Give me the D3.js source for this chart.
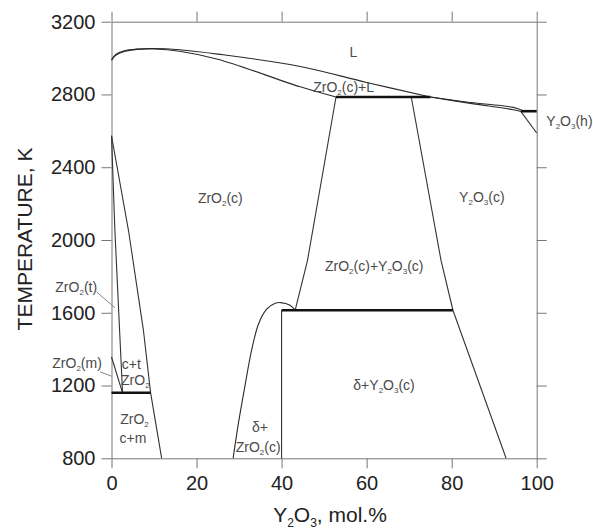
<!DOCTYPE html>
<html>
<head>
<meta charset="utf-8">
<script src="https://cdn.jsdelivr.net/npm/d3@7"></script>
<style>
  body { margin: 0; background: #fff; }
  svg { font-family: "Liberation Sans", Arial, sans-serif; }
</style>
</head>
<body>
<svg width="593" height="529"></svg>
<script>
// Phase diagram ZrO2 - Y2O3, x = mol.% Y2O3, y = temperature in K

const xTicks = [0, 20, 40, 60, 80, 100];
const yTicks = [800, 1200, 1600, 2000, 2400, 2800, 3200];

// liquidus, ZrO2(c) side
const liquidusZr = [[0, 2990], [1, 3020], [3, 3040], [6, 3050], [10, 3053], [16, 3046], [25, 3022], [44.4, 2954], [60, 2866], [75, 2786]];
// solidus, ZrO2(c) side
const solidusZr = [[0, 2988], [1, 3015], [3, 3036], [6, 3048], [10, 3050], [16, 3038], [25, 2994], [44.4, 2842], [52.8, 2786]];
// liquidus / solidus, Y2O3(c) side
const liquidusY = [[75, 2786], [84.4, 2756], [94.5, 2729], [96.8, 2710]];
const solidusY = [[75, 2786], [84.4, 2751], [94.5, 2716], [96.3, 2706]];
// Y2O3 c -> h
const cubicHex = [[96.3, 2706], [100, 2588]];

// ZrO2 side boundaries
const cToCT = [[0, 2573], [4.0, 2052], [7.5, 1505], [9.2, 1160], [11.8, 800]];
const tToCT = [[0, 2573], [0.8, 2052], [1.9, 1505], [2.6, 1160]];
const mToMT = [[0, 1357], [2.6, 1160]];

// delta phase
const deltaDome = [[28.6, 800], [29.9, 1000], [31.4, 1200], [33.0, 1400], [34.6, 1540], [36.5, 1620], [38.5, 1652], [39.8, 1656], [42, 1641], [43.2, 1614]];
const deltaLine = [[40, 800], [40, 1614]];

// two-phase ZrO2(c)+Y2O3(c) boundaries
const leftSolvus = [[43.2, 1614], [46.1, 1888], [52.8, 2786]];
const rightSolvus = [[70.5, 2786], [77.5, 1888], [80.3, 1614], [92.8, 800]];

// invariant lines (thick)
const invariants = [
    [[0, 1160], [9.2, 1160]],
    [[40, 1614], [80.3, 1614]],
    [[52.8, 2786], [75, 2786]],
    [[96.3, 2708], [100, 2708]]
];

// phase labels: [x, T, parts]; parts are [text, isSub]
const labels = [
    [56.9, 3034, [["L", 0]]],
    [54.6, 2842, [["ZrO", 0], ["2", 1], ["(c)+L", 0]]],
    [107.7, 2656, [["Y", 0], ["2", 1], ["O", 0], ["3", 1], ["(h)", 0]]],
    [25.6, 2233, [["ZrO", 0], ["2", 1], ["(c)", 0]]],
    [87.1, 2235, [["Y", 0], ["2", 1], ["O", 0], ["3", 1], ["(c)", 0]]],
    [61.8, 1855, [["ZrO", 0], ["2", 1], ["(c)+Y", 0], ["2", 1], ["O", 0], ["3", 1], ["(c)", 0]]],
    [64.1, 1202, [["\u03b4+Y", 0], ["2", 1], ["O", 0], ["3", 1], ["(c)", 0]]],
    [34.9, 973, [["\u03b4+", 0]]],
    [34.5, 860, [["ZrO", 0], ["2", 1], ["(c)", 0]]],
    [-8.3, 1741, [["ZrO", 0], ["2", 1], ["(t)", 0]]],
    [-8.1, 1324, [["ZrO", 0], ["2", 1], ["(m)", 0]]],
    [4.66, 1321, [["c+t", 0]]],
    [5.6, 1233, [["ZrO", 0], ["2", 1]]],
    [5.4, 1014, [["ZrO", 0], ["2", 1]]],
    [5.06, 910, [["c+m", 0]]]
];

const leaders = [
    [[-3.5, 1714], [0.8, 1628]],
    [[-2.7, 1275], [0.05, 1251]]
];

const svg = d3.select("svg");

const x = d3.scaleLinear().domain([0, 100]).range([111.5, 536.7]);
const y = d3.scaleLinear().domain([800, 3200]).range([458.3, 21.7]);

function styleAxis(g) {
    g.select(".domain").attr("stroke", "#777");
    g.selectAll(".tick line").attr("stroke", "#777");
    g.selectAll(".tick text").attr("fill", "#222").style("font-size", "20px");
}

svg.append("g")
    .attr("transform", `translate(0,${y(800)})`)
    .call(d3.axisBottom(x).tickValues(xTicks).tickSize(10).tickSizeOuter(0).tickPadding(8).tickFormat(d3.format("d")))
    .call(styleAxis);

svg.append("g")
    .attr("transform", `translate(0,${y(3200)})`)
    .call(d3.axisTop(x).tickValues(xTicks).tickSize(10).tickSizeOuter(0).tickFormat(""))
    .call(styleAxis);

svg.append("g")
    .attr("transform", `translate(${x(0)},0)`)
    .call(d3.axisLeft(y).tickValues(yTicks).tickSize(10).tickSizeOuter(0).tickPadding(6).tickFormat(d3.format("d")))
    .call(styleAxis);

svg.append("g")
    .attr("transform", `translate(${x(100)},0)`)
    .call(d3.axisRight(y).tickValues(yTicks).tickSize(10).tickSizeOuter(0).tickFormat(""))
    .call(styleAxis);

const smooth = d3.line().x(d => x(d[0])).y(d => y(d[1])).curve(d3.curveCatmullRom.alpha(0.5));
const straight = d3.line().x(d => x(d[0])).y(d => y(d[1]));

const plot = svg.append("g").attr("fill", "none");

[liquidusZr, solidusZr, liquidusY, solidusY, deltaDome].forEach(c => {
    plot.append("path").attr("d", smooth(c)).attr("stroke", "#2a2a2a").attr("stroke-width", 1.1);
});

[cubicHex, cToCT, tToCT, mToMT, deltaLine, leftSolvus, rightSolvus].forEach(c => {
    plot.append("path").attr("d", straight(c)).attr("stroke", "#333").attr("stroke-width", 1.1);
});

invariants.forEach(c => {
    plot.append("path").attr("d", straight(c)).attr("stroke", "#111").attr("stroke-width", 2.6);
});

leaders.forEach(c => {
    plot.append("path").attr("d", straight(c)).attr("stroke", "#888").attr("stroke-width", 1);
});

const lab = svg.append("g")
    .attr("fill", "#4a4a4a")
    .style("font-size", "14px");

labels.forEach(([lx, lt, parts]) => {
    const t = lab.append("text")
        .attr("x", x(lx))
        .attr("y", y(lt) + 5)
        .attr("text-anchor", "middle");
    parts.forEach(([s, sub], i) => {
        const sp = t.append("tspan").text(s);
        if (sub) sp.style("font-size", "8px").attr("dy", 3);
        else if (i > 0 && parts[i - 1][1]) sp.attr("dy", -3);
    });
});

// axis titles
svg.append("text")
    .attr("x", 330)
    .attr("y", 522)
    .attr("text-anchor", "middle")
    .attr("fill", "#222")
    .style("font-size", "21px")
    .call(t => {
        t.append("tspan").text("Y");
        t.append("tspan").text("2").style("font-size", "12px").attr("dy", 5);
        t.append("tspan").text("O").attr("dy", -5);
        t.append("tspan").text("3").style("font-size", "12px").attr("dy", 5);
        t.append("tspan").text(", mol.%").attr("dy", -5);
    });

svg.append("text")
    .attr("transform", "translate(31.5,239) rotate(-90)")
    .attr("text-anchor", "middle")
    .attr("fill", "#222")
    .style("font-size", "21px")
    .text("TEMPERATURE, K");
</script>
</body>
</html>
